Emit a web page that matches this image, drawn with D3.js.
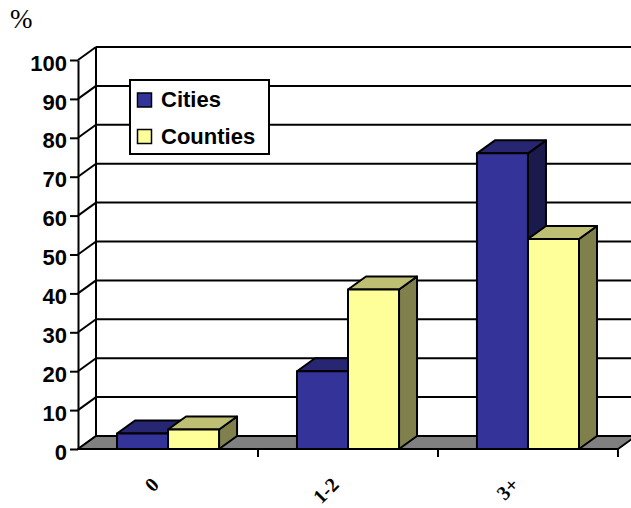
<!DOCTYPE html>
<html>
<head>
<meta charset="utf-8">
<script src="https://cdn.jsdelivr.net/npm/d3@7"></script>
<style>
  html, body { margin: 0; padding: 0; background: #fff; }
  svg { display: block; }
</style>
</head>
<body>
<svg id="chart" width="631" height="508"></svg>
<script>
// Chart data
const categories = ["0", "1-2", "3+"];
const seriesNames = ["Cities", "Counties"];
const cities = [4, 20, 76];
const counties = [5, 41, 54];
const yTicks = [0, 10, 20, 30, 40, 50, 60, 70, 80, 90, 100];
const unitLabel = "%";

const seriesValues = [cities, counties];

// Face colours for each series: front, top, side
const palette = [
  { front: "#333399", top: "#262673", side: "#1a1a4d" },
  { front: "#ffff99", top: "#bfbf73", side: "#80804d" }
];

// Depth offset of the 3-D projection
const DX = 18, DY = -13;

const svg = d3.select("#chart");
svg.append("rect").attr("width", 631).attr("height", 508).attr("fill", "#fff");

const y = d3.scaleLinear().domain([0, 100]).range([449, 60]);
const x = d3.scaleBand().domain(categories).range([78, 618])
  .paddingInner(0.433).paddingOuter(0.2167);
const xs = d3.scaleBand().domain(seriesNames).range([0, x.bandwidth()]);

const left = x.range()[0], right = x.range()[1];
const line = (g, x1, y1, x2, y2, w) => g.append("line")
  .attr("x1", x1).attr("y1", y1).attr("x2", x2).attr("y2", y2)
  .attr("stroke", "#000").attr("stroke-width", w);

// Back wall gridlines and the side-wall edges joining them to the axis
const walls = svg.append("g");
yTicks.forEach(v => {
  line(walls, left + DX, y(v) + DY, right + DX, y(v) + DY, 2);
  line(walls, left, y(v), left + DX, y(v) + DY, 2);
});
line(walls, left + DX, y(0) + DY, left + DX, y(100) + DY, 2);

// Floor
svg.append("polygon")
  .attr("points", [[left, y(0)], [right, y(0)], [right + DX, y(0) + DY], [left + DX, y(0) + DY]].join(" "))
  .attr("fill", "#808080").attr("stroke", "#000").attr("stroke-width", 2)
  .attr("stroke-linejoin", "round");

// Front value axis
const yAxis = d3.axisLeft(y).tickValues(yTicks).tickSize(8).tickSizeOuter(0).tickPadding(3);
const ya = svg.append("g").attr("transform", `translate(${left},0)`).call(yAxis);
ya.select(".domain").attr("stroke", "#000").attr("stroke-width", 2);
ya.selectAll(".tick line").attr("stroke", "#000").attr("stroke-width", 2);
ya.selectAll(".tick text")
  .attr("dy", "0.46em")
  .attr("fill", "#000")
  .style("font-family", "'Liberation Sans', Arial, sans-serif")
  .style("font-size", "22px").style("font-weight", "bold");

// Category boundary ticks
const xt = svg.append("g");
categories.forEach(c => {
  const bx = x(c) + x.bandwidth() + x.step() * x.paddingInner() / 2;
  line(xt, bx, y(0), bx, y(0) + 8, 2);
});

// Bars
const bars = svg.append("g");
categories.forEach((c, ci) => {
  seriesNames.forEach((s, si) => {
    const v = seriesValues[si][ci];
    const x0 = x(c) + xs(s), x1 = x0 + xs.bandwidth();
    const yt = y(v), yb = y(0);
    const col = palette[si];
    const g = bars.append("g")
      .attr("stroke", "#000").attr("stroke-width", 2).attr("stroke-linejoin", "round");
    g.append("polygon")
      .attr("points", [[x1, yt], [x1 + DX, yt + DY], [x1 + DX, yb + DY], [x1, yb]].join(" "))
      .attr("fill", col.side);
    g.append("polygon")
      .attr("points", [[x0, yt], [x0 + DX, yt + DY], [x1 + DX, yt + DY], [x1, yt]].join(" "))
      .attr("fill", col.top);
    g.append("rect")
      .attr("x", x0).attr("y", yt).attr("width", x1 - x0).attr("height", yb - yt)
      .attr("fill", col.front);
  });
});

// Category labels, slanted
svg.append("g").selectAll("text").data(categories).join("text")
  .attr("transform", c => `translate(${x(c) + x.bandwidth() / 2 - 8},${y(0) + 37}) rotate(-45)`)
  .attr("text-anchor", "end")
  .style("font-family", "'Liberation Serif', 'Times New Roman', serif")
  .style("font-size", "20px").style("font-weight", "bold")
  .text(c => c);

// Unit label
svg.append("text").attr("x", 10).attr("y", 28)
  .style("font-family", "'Liberation Serif', 'Times New Roman', serif")
  .style("font-size", "27px")
  .text(unitLabel);

// Legend
const lg = svg.append("g");
lg.append("rect").attr("x", 130).attr("y", 80).attr("width", 139).attr("height", 74)
  .attr("fill", "#fff").attr("stroke", "#000").attr("stroke-width", 2);
seriesNames.forEach((s, i) => {
  const yy = 93 + i * 36.5;
  lg.append("rect").attr("x", 137.5).attr("y", yy).attr("width", 14).attr("height", 14)
    .attr("fill", palette[i].front).attr("stroke", "#000").attr("stroke-width", 1.5);
  lg.append("text").attr("x", 161).attr("y", yy + 14)
    .style("font-family", "'Liberation Sans', Arial, sans-serif")
    .style("font-size", "22px").style("font-weight", "bold")
    .text(s);
});
</script>
</body>
</html>
